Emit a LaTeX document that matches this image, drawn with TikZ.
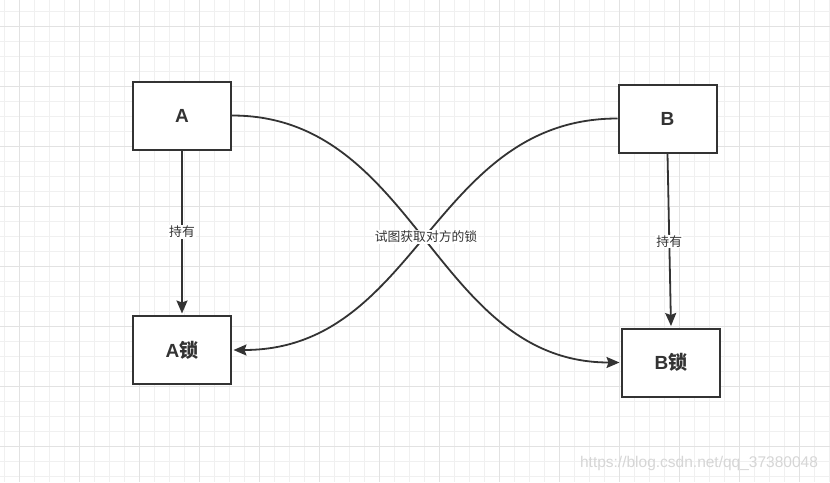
\documentclass[tikz,border=0pt]{standalone}
\usepackage{fontspec}
\setmainfont{Liberation Sans}
\newfontfamily\cjk{Noto Sans CJK SC}
\usetikzlibrary{arrows.meta}
\definecolor{ink}{HTML}{333333}
\definecolor{gridminor}{HTML}{F0F0F0}
\definecolor{gridmajor}{HTML}{E2E2E2}
\definecolor{wmark}{HTML}{D6D6D6}
\begin{document}
\begin{tikzpicture}[x=1pt,y=-1pt,
  box/.style={draw=ink,line width=2pt,fill=white,minimum width=98pt,minimum height=68pt,
    inner sep=0pt,text=ink,font=\fontsize{19}{21}\selectfont\bfseries},
  conn/.style={draw=ink,line width=1.8pt},
  arr/.style={conn,-{Stealth[length=13pt,width=11pt,inset=2pt]}},
  lbl/.style={fill=white,inner sep=1pt,text=ink,font=\cjk\fontsize{12.8}{14}\selectfont}]
\useasboundingbox (0,0) rectangle (830,482);
\fill[white] (0,0) rectangle (830,482);
% grid
\foreach \i in {0,...,55}{\draw[gridminor,line width=0.8pt] (4+15*\i,0) -- (4+15*\i,482);}
\foreach \i in {0,...,31}{\draw[gridminor,line width=0.8pt] (0,11.7+15*\i) -- (830,11.7+15*\i);}
\foreach \i in {0,...,13}{\draw[gridmajor,line width=0.8pt] (19+60*\i,0) -- (19+60*\i,482);}
\foreach \i in {0,...,7}{\draw[gridmajor,line width=0.8pt] (0,26.7+60*\i) -- (830,26.7+60*\i);}
% boxes
\node[box] (A) at (182,115.5) {A};
\node[box] (Alock) at (182,350) {A\cjk\bfseries 锁};
\node[box] (B) at (667.5,118.5) {B};
\node[box] (Block) at (671,362.5) {B\cjk\bfseries 锁};
% connectors
\draw[arr] (A.east) .. controls +(185,0) and +(-185,0) .. ([xshift=-1.5pt]Block.west);
\draw[arr] (B.west) .. controls +(-185,0) and +(185,0) .. ([xshift=1.5pt]Alock.east);
\draw[arr] (A.south) -- node[lbl,pos=0.5] {持有} ([yshift=1.5pt]Alock.north);
\draw[arr] (B.south) -- node[lbl,pos=0.51] {持有} ([yshift=1.5pt]Block.north);
\node[lbl] (try) at (426,237) {试图获取对方的锁};
% watermark
\node[text=wmark,font=\fontsize{15.5}{17}\selectfont,inner sep=0pt] (wm) at (699,463) {https://blog.csdn.net/qq\_37380048};
\end{tikzpicture}
\end{document}
